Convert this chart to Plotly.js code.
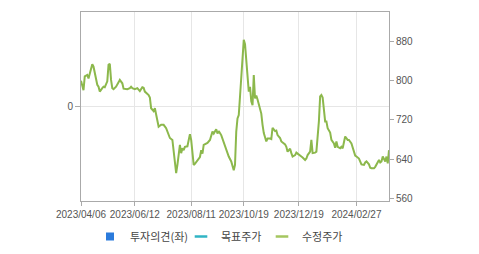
<!DOCTYPE html>
<html>
<head>
<meta charset="utf-8">
<script src="https://cdn.plot.ly/plotly-3.0.1.min.js"></script>
<style>html,body{margin:0;padding:0;background:#fff;}#chart{width:479px;height:254px;}</style>
</head>
<body>
<div id="chart"></div>
<script>
// Tick labels (trading-day index positions and their dates)
const tickIdx = [0, 43, 88, 130, 174, 220];
const tickDates = ['2023/04/06', '2023/06/12', '2023/08/11', '2023/10/19', '2023/12/19', '2024/02/27'];
const rightTicks = [560, 640, 720, 800, 880];

// 수정주가 (adjusted price) series: trading-day index and price
const day = [0,2,3,5,6,9,10,11,13,14,
  15,17,18,19,21,22,23,24,25,26,
  28,30,31,33,34,37,39,40,41,43,
  45,47,49,50,51,54,55,56,58,59,
  61,62,64,66,68,70,71,73,74,75,
  76,77,78,79,80,81,82,83,85,86,
  87,88,89,90,91,93,95,96,97,98,
  100,101,103,105,106,108,109,110,112,114,
  116,118,120,121,122,123,124,125,126,127,
  128,129,130,131,132,133,134,135,136,137,
  138,139,140,141,142,144,145,146,148,149,
  151,152,153,155,156,157,159,160,163,164,
  165,167,168,169,171,172,173,175,176,177,
  179,180,181,183,184,185,186,187,188,189,
  190,191,192,193,194,195,196,197,199,200,
  202,203,204,205,207,208,209,210,211,213,
  214,216,218,219,220,222,224,226,227,228,
  230,231,232,234,235,236,238,239,240,241,
  242,243,244,245,246];
const price = [800,781,809,812,805,834,829,816,792,788,
  778,785,788,787,799,833,835,802,785,783,
  788,797,802,795,784,783,785,788,785,783,
  785,779,787,786,778,771,766,744,738,744,
  717,706,710,710,703,689,683,679,655,631,
  611,628,652,669,652,662,658,665,666,679,
  691,679,648,628,630,638,644,658,651,669,
  672,673,679,696,692,701,692,697,689,675,
  658,645,635,624,617,628,696,723,730,768,
  812,840,884,875,840,792,778,788,758,750,
  812,764,770,762,754,733,710,693,676,682,
  682,681,704,697,698,689,683,676,670,665,
  655,661,652,645,648,653,651,648,645,643,
  638,641,648,655,679,652,652,653,655,683,
  717,768,771,766,737,717,717,703,694,679,
  672,663,676,665,662,665,662,676,686,679,
  679,672,658,647,645,641,629,628,633,635,
  629,622,621,621,624,628,638,633,635,645,
  638,635,645,631,658];

// 투자의견 and 목표주가 have no values in the visible period
const opinionDay = [];
const opinionVal = [];
const targetDay = [];
const targetVal = [];

const GREEN = '#8cb84c';
const legFont = {family:'"Noto Sans CJK KR", sans-serif', size:11, color:'#444'};
const traces = [
  {type:'scatter', mode:'markers', x:opinionDay.length?opinionDay:[null], y:opinionVal.length?opinionVal:[null],
   name:'투자의견(좌)', yaxis:'y', legend:'legend', marker:{symbol:'square', size:8, color:'#2b7bdc'}, hoverinfo:'skip'},
  {type:'scatter', mode:'markers', x:targetDay.length?targetDay:[null], y:targetVal.length?targetVal:[null],
   name:'목표주가', yaxis:'y2', legend:'legend2', marker:{symbol:'line-ew', size:9, color:'#30b4c4', line:{width:2.5, color:'#30b4c4'}}, hoverinfo:'skip'},
  {type:'scatter', mode:'markers', x:[null], y:[null], name:'수정주가', legendgroup:'adj', yaxis:'y2', legend:'legend3',
   marker:{symbol:'line-ew', size:9, color:GREEN, line:{width:2.5, color:'#a4c65f'}}, hoverinfo:'skip'},
  {type:'scatter', mode:'lines', x:day, y:price, name:'수정주가', legendgroup:'adj', showlegend:false, yaxis:'y2',
   line:{color:GREEN, width:2}}
];

function leg(xpx){
  return {orientation:'h', xref:'container', yref:'container', x:xpx/479, xanchor:'left',
    y:1-222/254, yanchor:'top', itemwidth:30, bgcolor:'rgba(0,0,0,0)', borderwidth:0, font:legFont};
}

const layout = {
  width:479, height:254,
  margin:{l:81, r:90, t:12, b:53},
  paper_bgcolor:'#ffffff', plot_bgcolor:'#ffffff',
  font:{family:'"Liberation Sans", Arial, "Noto Sans CJK KR", sans-serif', size:10, color:'#555'},
  showlegend:true,
  xaxis:{range:[0,246], tickmode:'array', tickvals:tickIdx, ticktext:tickDates,
    showgrid:true, gridcolor:'#e6e6e6', gridwidth:1, zeroline:false,
    showline:true, linecolor:'#aaaaaa', linewidth:1, mirror:true,
    ticks:'outside', ticklen:4, tickcolor:'#aaaaaa',
    tickfont:{size:10, color:'#555'}, fixedrange:true, automargin:false},
  yaxis:{range:[-1,1], tickmode:'array', tickvals:[0], ticktext:['0'],
    showgrid:true, gridcolor:'#e6e6e6', zeroline:false,
    showline:true, linecolor:'#aaaaaa', linewidth:1,
    ticks:'outside', ticklen:5, tickcolor:'#aaaaaa',
    tickfont:{size:10, color:'#555'}, fixedrange:true, automargin:false},
  yaxis2:{overlaying:'y', side:'right', range:[554,941], tickmode:'array', tickvals:rightTicks,
    showgrid:false, zeroline:false, showline:true, linecolor:'#aaaaaa', linewidth:1,
    ticks:'outside', ticklen:4, tickcolor:'#aaaaaa',
    tickfont:{size:10, color:'#555'}, fixedrange:true, automargin:false},
  legend: leg(90),
  legend2: leg(181),
  legend3: leg(262)
};

Plotly.newPlot('chart', traces, layout, {displayModeBar:false, staticPlot:true});
</script>
</body>
</html>
